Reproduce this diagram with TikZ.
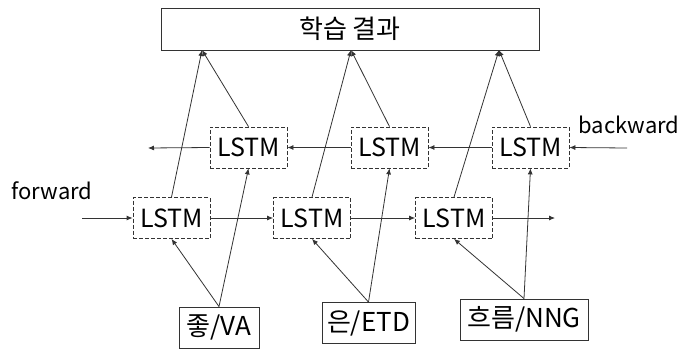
\documentclass[tikz,border=0pt]{standalone}
\usepackage{fontspec}
\setmainfont{Noto Sans CJK KR}
\usetikzlibrary{arrows.meta}
\begin{document}
\begin{tikzpicture}[x=1pt,y=-1pt,
  line/.style={draw=black!80, line width=0.8pt},
  arr/.style={line, -{Latex[length=6pt,width=5pt]}},
  cell/.style={draw=black!80, line width=0.8pt, dash pattern=on 4pt off 2pt,
    minimum width=77pt, minimum height=41pt, inner sep=0pt, font=\fontsize{25}{28}\selectfont},
  word/.style={draw=black!80, line width=0.9pt, minimum height=41pt, inner sep=0pt,
    font=\fontsize{26}{29}\selectfont},
  lbl/.style={inner sep=0pt, font=\fontsize{22}{26}\selectfont}
]
\useasboundingbox (0,0) rectangle (693,351);
\fill[white] (0,0) rectangle (693,351);

% output layer
\node[draw=black!80, line width=0.9pt, minimum width=378pt, minimum height=42pt, inner sep=0pt,
  font=\fontsize{26}{29}\selectfont] (out) at (350,29) {학습 결과};

% forward chain
\node[cell] (f1) at (171.5,218) {LSTM};
\node[cell] (f2) at (312,218) {LSTM};
\node[cell] (f3) at (454,218) {LSTM};
% backward chain
\node[cell] (b1) at (248.5,147.5) {LSTM};
\node[cell] (b2) at (389.5,147.5) {LSTM};
\node[cell] (b3) at (530.5,147.5) {LSTM};

% input words
\node[word, minimum width=80pt] (w1) at (219,327.5) {좋/VA};
\node[word, minimum width=93pt] (w2) at (368.5,323) {은/ETD};
\node[word, minimum width=128pt] (w3) at (524,319.5) {흐름/NNG};

% direction labels
\node[lbl] (fw) at (52,191) {forward};
\node[lbl] (bw) at (629,125) {backward};

% free ends of the chains
\coordinate (fin) at (82,218);
\coordinate (fout) at (555,218);
\coordinate (bin) at (627,148);
\coordinate (bout) at (148,148);

% merge points on the output box
\coordinate (t1) at (202,50);
\coordinate (t2) at (351,50);
\coordinate (t3) at (499,50);

% forward connections
\draw[arr] (fin) -- (f1.west);
\draw[arr] (f1.east) -- (f2.west);
\draw[arr] (f2.east) -- (f3.west);
\draw[arr] (f3.east) -- (fout);

% backward connections
\draw[arr] (bin) -- (b3.east);
\draw[arr] (b3.west) -- (b2.east);
\draw[arr] (b2.west) -- (b1.east);
\draw[arr] (b1.west) -- (bout);

% inputs to both directions
\draw[arr] (w1.north) -- (f1.south);
\draw[arr] (w1.north) -- (b1.south);
\draw[arr] (w2.north) -- (f2.south);
\draw[arr] (w2.north) -- (b2.south);
\draw[arr] (w3.north) -- (f3.south);
\draw[arr] (w3.north) -- (b3.south);

% both directions into the output
\draw[arr] (f1.north) -- (t1);
\draw[arr] (b1.north) -- (t1);
\draw[arr] (f2.north) -- (t2);
\draw[arr] (b2.north) -- (t2);
\draw[arr] (f3.north) -- (t3);
\draw[arr] (b3.north) -- (t3);
\end{tikzpicture}
\end{document}
